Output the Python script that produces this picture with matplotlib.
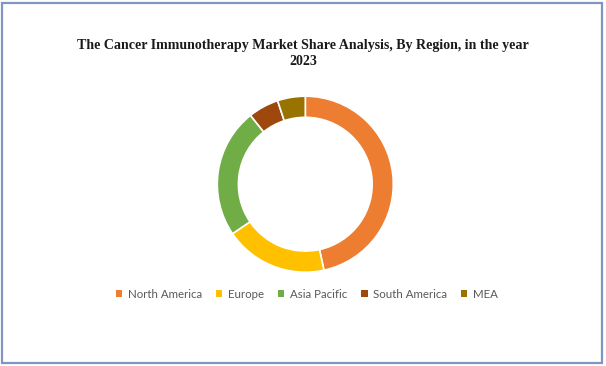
import matplotlib
matplotlib.use("Agg")
import matplotlib.pyplot as plt
from matplotlib.patches import Rectangle

regions = ["North America", "Europe", "Asia Pacific", "South America", "MEA"]
shares = [46.6, 18.9, 23.8, 5.6, 5.1]
colors = ["#ED7D31", "#FFC000", "#70AD47", "#9E480E", "#997300"]
title = "The Cancer Immunotherapy Market Share Analysis, By Region, in the year\n2023"

fig = plt.figure(figsize=(6.06, 3.66), dpi=100)
fig.patch.set_facecolor("white")

# frame
fig.patches.append(Rectangle((2.5/606, 3/366), 599/606, 360/366, transform=fig.transFigure,
                             fill=False, edgecolor="#8096C2", linewidth=1.6))

fig.text(0.5, 1 - 53.5/366, title, ha="center", va="center", fontsize=10.1,
         fontweight="bold", family="Liberation Serif", color="#1a1a1a", linespacing=1.3)

r = 88
cx, cy = 305.3, 184.2
ax = fig.add_axes([(cx - r) / 606, 1 - (cy + r) / 366, 2 * r / 606, 2 * r / 366])
wedges, _ = ax.pie(shares, colors=colors, startangle=90, counterclock=False, radius=1.0,
                   wedgeprops=dict(width=0.24, edgecolor="white", linewidth=1.2))
ax.set_xlim(-1, 1)
ax.set_ylim(-1, 1)
ax.set_aspect("equal")
ax.axis("off")

leg = fig.legend(wedges, regions, loc="center", bbox_to_anchor=(307 / 606, 1 - 294 / 366),
                 ncol=5, frameon=False, handlelength=0.55, handleheight=0.55, handletextpad=0.5,
                 columnspacing=1.2, prop=dict(family="Lato", size=8.3))
for t in leg.get_texts():
    t.set_color("#595959")
for h in leg.legend_handles:
    h.set_edgecolor("none")

fig.savefig("out.png", dpi=100)
